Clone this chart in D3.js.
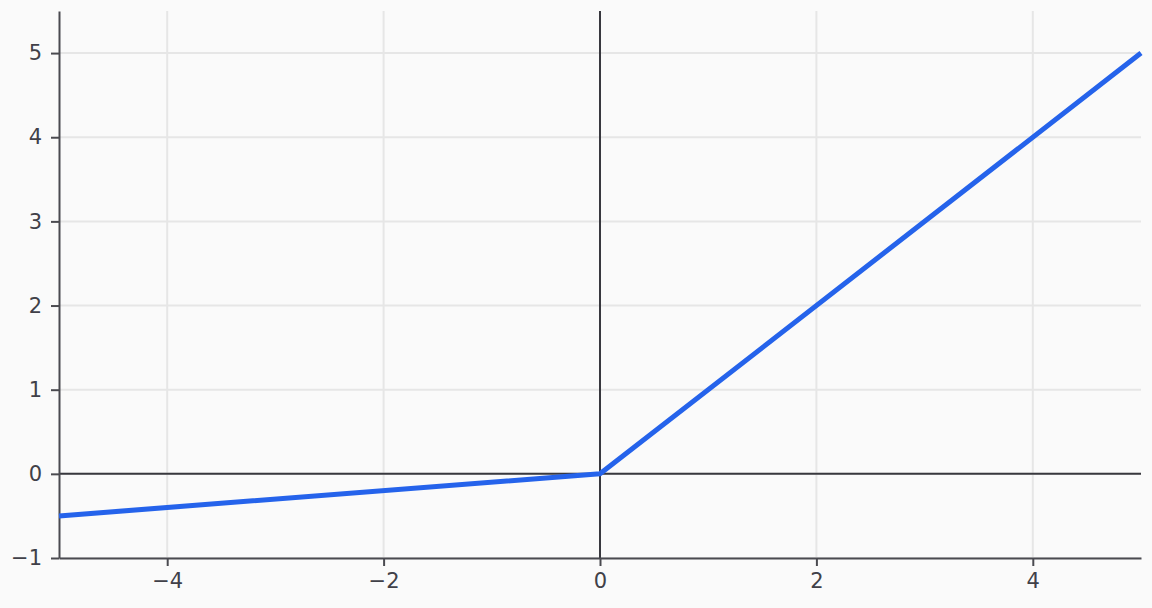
<!DOCTYPE html>
<html>
<head>
<meta charset="utf-8">
<script src="https://cdn.jsdelivr.net/npm/d3@7"></script>
<style>
  html, body { margin: 0; padding: 0; background: #fafafa; }
  svg { display: block; font-family: "DejaVu Sans", sans-serif; }
</style>
</head>
<body>
<svg id="chart"></svg>
<script>
// leaky relu, slope 0.1 on the left
const xs = [-5, 0, 5];
const ys = [-0.5, 0, 5];
const xTicks = [-4, -2, 0, 2, 4];
const yTicks = [-1, 0, 1, 2, 3, 4, 5];

const width = 1152, height = 608;
const margin = { top: 11, right: 11, bottom: 50, left: 59 };

const svg = d3.select("#chart")
    .attr("width", width)
    .attr("height", height)
    .style("background", "#fafafa");

const x = d3.scaleLinear()
    .domain([-5, 5])
    .range([margin.left, width - margin.right]);

const y = d3.scaleLinear()
    .domain([-1, 5.5])
    .range([height - margin.bottom, margin.top]);

// grid
svg.append("g")
    .selectAll("line")
    .data(xTicks)
    .enter()
    .append("line")
    .attr("x1", d => x(d))
    .attr("x2", d => x(d))
    .attr("y1", y.range()[1])
    .attr("y2", y.range()[0])
    .attr("stroke", "#e6e6e6")
    .attr("stroke-width", 2);

svg.append("g")
    .selectAll("line")
    .data(yTicks)
    .enter()
    .append("line")
    .attr("x1", x.range()[0])
    .attr("x2", x.range()[1])
    .attr("y1", d => y(d))
    .attr("y2", d => y(d))
    .attr("stroke", "#e6e6e6")
    .attr("stroke-width", 2);

// zero lines
svg.append("line")
    .attr("x1", x.range()[0]).attr("x2", x.range()[1])
    .attr("y1", y(0)).attr("y2", y(0))
    .attr("stroke", "#38383e").attr("stroke-width", 2);
svg.append("line")
    .attr("x1", x(0)).attr("x2", x(0))
    .attr("y1", y.range()[1]).attr("y2", y.range()[0])
    .attr("stroke", "#38383e").attr("stroke-width", 2);

// axes
const fmt = d3.format("d");
const xAxis = d3.axisBottom(x)
    .tickValues(xTicks)
    .tickFormat(fmt)
    .tickSize(8)
    .tickPadding(7)
    .tickSizeOuter(0);
const yAxis = d3.axisLeft(y)
    .tickValues(yTicks)
    .tickFormat(fmt)
    .tickSize(8)
    .tickPadding(9)
    .tickSizeOuter(0);

const gx = svg.append("g")
    .attr("transform", `translate(0, ${height - margin.bottom})`)
    .call(xAxis);
const gy = svg.append("g")
    .attr("transform", `translate(${margin.left}, 0)`)
    .call(yAxis);

[gx, gy].forEach(g => {
    g.select(".domain").attr("stroke", "#4a4a50").attr("stroke-width", 2);
    g.selectAll(".tick line").attr("stroke", "#4a4a50").attr("stroke-width", 2);
    g.selectAll(".tick text")
        .attr("fill", "#404048")
        .style("font-size", "21px")
        .style("font-family", "DejaVu Sans, sans-serif");
});

// the curve
const line = d3.line()
    .x((d, i) => x(xs[i]))
    .y(d => y(d));

svg.append("path")
    .datum(ys)
    .attr("d", line)
    .attr("fill", "none")
    .attr("stroke", "#2563eb")
    .attr("stroke-width", 5)
    .attr("stroke-linejoin", "round");
</script>
</body>
</html>
